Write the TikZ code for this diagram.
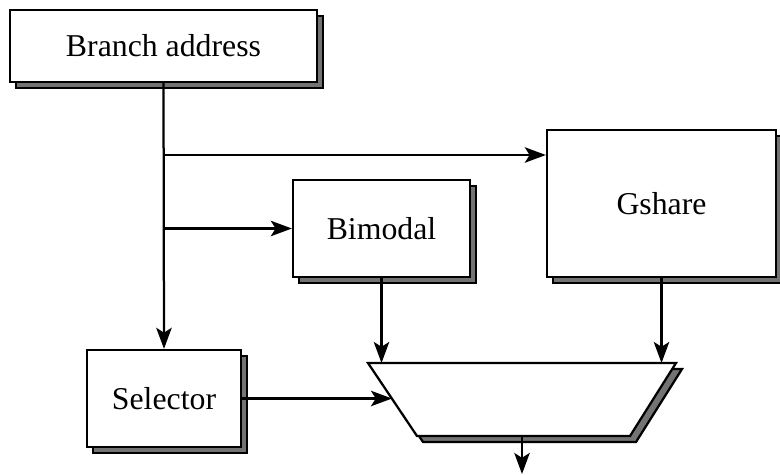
\documentclass[tikz,border=0pt]{standalone}
\usepackage{fontspec}
\setmainfont{Liberation Serif}
\usetikzlibrary{arrows.meta,shadows}

\begin{document}
\begin{tikzpicture}[x=0.025cm, y=-0.025cm, line width=1.6pt,
		every node/.style={font=\fontsize{22.6}{27}\selectfont},
		blockbox/.style={draw, fill=white, line width=1.6pt, general shadow={shadow xshift=0.15cm, shadow yshift=-0.15cm, fill=black!55, draw=black, line width=1.6pt}},
		link/.style={line width=1.6pt, -{Stealth[length=15pt,width=11pt,inset=3.5pt]}}]
	\useasboundingbox (0,0) rectangle (780,474);
	\node [blockbox, minimum width=7.675cm, minimum height=1.8cm] (branch) at (163.5,46) {Branch address};
	\node [blockbox, minimum width=4.425cm, minimum height=2.425cm] (bimodal) at (381.5,228.5) {Bimodal};
	\node [blockbox, minimum width=5.725cm, minimum height=3.675cm] (gshare) at (661.5,203.5) {Gshare};
	\node [blockbox, minimum width=3.85cm, minimum height=2.425cm] (selector) at (164,398.5) {Selector};
	\coordinate (tl) at (368,363);
	\coordinate (tr) at (676,363);
	\coordinate (br) at (630,436);
	\coordinate (bl) at (417,436);
	\draw [fill=black!55] ([shift={(6,6)}]tl) -- ([shift={(6,6)}]tr) -- ([shift={(6,6)}]br) -- ([shift={(6,6)}]bl) -- cycle;
	\draw [fill=white] (tl) -- (tr) -- (br) -- (bl) -- cycle;
	\coordinate (muxin) at (392,398.5);
	\coordinate (muxout) at (522,436);
	\coordinate (j1) at (164,155);
	\coordinate (j2) at (branch.south |- bimodal.west);
	\coordinate (out) at (522,474);
	\draw [link] (branch.south) -- (selector.north);
	\draw [link] (j1) -- (j1 -| gshare.west);
	\draw [link] (j2) -- (bimodal.west);
	\draw [link] (bimodal.south) -- (bimodal.south |- tl);
	\draw [link] (gshare.south) -- (gshare.south |- tl);
	\draw [link] (selector.east) -- (muxin);
	\draw [link] (muxout) -- (out);
\end{tikzpicture}
\end{document}
